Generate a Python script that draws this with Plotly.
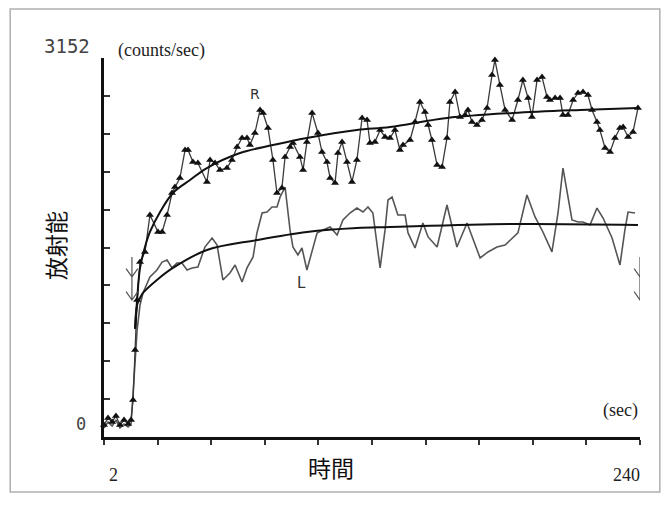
import plotly.graph_objects as go

# ---- data (time in sec, counts/sec) ----
r_time = [2.0, 3.8, 5.6, 7.3, 9.1, 10.9, 12.7, 14.0, 14.9, 15.8,
          16.7, 18.0, 20.2, 22.4, 26.0, 27.8, 30.0, 32.2, 33.5, 35.7,
          38.0, 39.3, 41.5, 43.7, 47.7, 49.1, 51.3, 53.5, 56.6, 58.8,
          61.1, 63.3, 65.5, 66.8, 69.0, 71.3, 72.6, 74.8, 77.0, 78.8,
          81.0, 82.4, 84.6, 85.9, 89.0, 90.4, 92.1, 94.4, 97.0, 98.8,
          101.0, 102.4, 104.6, 105.9, 107.7, 109.9, 112.1, 114.3, 116.6, 118.8,
          120.1, 122.3, 124.6, 126.8, 129.0, 131.2, 133.4, 134.8, 137.9, 140.1,
          142.3, 144.5, 145.9, 147.6, 149.9, 152.1, 154.3, 155.6, 157.9, 160.1,
          162.3, 163.6, 165.4, 167.6, 169.8, 172.1, 174.3, 175.6, 177.8, 180.1,
          183.2, 185.8, 188.0, 190.3, 192.0, 194.3, 196.5, 198.7, 200.0, 202.3,
          204.5, 205.8, 208.0, 210.3, 212.5, 214.7, 216.9, 218.7, 220.9, 222.2,
          224.5, 226.7, 228.9, 231.1, 232.5, 234.7, 236.9, 239.1]
r_counts = [100, 158, 125, 175, 100, 141, 108, 141, 308, 724,
            1139, 1455, 1539, 1846, 1705, 1705, 1846, 2029, 2079, 2154,
            2387, 2387, 2287, 2279, 2121, 2304, 2279, 2221, 2237, 2304,
            2412, 2487, 2487, 2428, 2528, 2720, 2695, 2570, 2304, 2029,
            2071, 2329, 2412, 2445, 2329, 2221, 2453, 2695, 2528, 2370,
            2287, 2154, 2112, 2362, 2453, 2287, 2121, 2304, 2653, 2636,
            2445, 2453, 2553, 2495, 2487, 2553, 2387, 2428, 2470, 2620,
            2786, 2703, 2595, 2470, 2262, 2245, 2487, 2786, 2869, 2661,
            2678, 2720, 2620, 2595, 2636, 2736, 3011, 3135, 2927, 2720,
            2636, 2803, 2969, 2819, 2661, 2969, 2994, 2828, 2803, 2819,
            2819, 2678, 2678, 2803, 2861, 2869, 2844, 2720, 2620, 2553,
            2403, 2370, 2487, 2570, 2578, 2495, 2537, 2736]

l_time = [2.0, 3.8, 5.6, 7.3, 9.1, 10.9, 12.7, 14.0, 15.3, 16.7,
          18.0, 19.3, 22.4, 25.5, 27.8, 30.0, 32.2, 34.4, 36.6, 38.9,
          41.1, 43.7, 46.8, 50.0, 52.2, 54.8, 57.9, 60.2, 63.3, 65.5,
          68.2, 69.9, 72.2, 74.4, 76.6, 78.8, 80.2, 82.4, 84.6, 85.9,
          88.1, 89.9, 92.1, 94.4, 96.6, 99.2, 102.4, 105.5, 108.1, 111.2,
          114.3, 117.0, 119.2, 121.4, 123.7, 124.6, 126.8, 128.1, 129.9, 132.5,
          135.7, 137.0, 140.1, 143.6, 145.9, 149.9, 154.3, 158.7, 163.2, 169.0,
          172.5, 176.5, 180.1, 183.2, 185.8, 189.8, 193.4, 196.9, 200.9, 203.6,
          205.8, 209.8, 212.5, 214.7, 217.8, 220.9, 223.6, 227.6, 231.1, 233.3,
          234.7, 237.8]
l_counts = [75, 125, 91, 141, 75, 108, 83, 108, 474, 890,
            1098, 1198, 1331, 1389, 1455, 1472, 1406, 1447, 1447, 1389,
            1406, 1414, 1580, 1655, 1597, 1306, 1364, 1430, 1289, 1406,
            1497, 1697, 1863, 1871, 1913, 1913, 1996, 2079, 1722, 1580,
            1514, 1572, 1389, 1539, 1697, 1722, 1746, 1680, 1805, 1863,
            1904, 1871, 1913, 1863, 1514, 1406, 1722, 1971, 1996, 1846,
            1846, 1697, 1572, 1780, 1664, 1580, 1929, 1580, 1780, 1489,
            1539, 1580, 1597, 1655, 1697, 2013, 1830, 1705, 1539, 1863,
            2237, 1805, 1788, 1788, 1763, 1904, 1821, 1655, 1431, 1722,
            1871, 1863]

# fitted (smooth) curves
rfit_time = [15.8, 16.7, 18.0, 20.2, 22.4, 26.9, 32.6, 40.2, 47.7, 62.4, 77.0,
             92.1, 114.3, 129.0, 154.3, 183.6, 213.4, 239.1]
rfit_counts = [900, 1139, 1406, 1580, 1705, 1871, 2029, 2137, 2237, 2362, 2428,
               2487, 2553, 2578, 2653, 2695, 2720, 2736]
lfit_time = [15.8, 16.7, 18.0, 19.3, 25.5, 32.6, 47.7, 69.9, 92.1, 114.3, 129.0,
             183.6, 239.1]
lfit_counts = [900, 1098, 1156, 1198, 1306, 1406, 1555, 1638, 1705, 1738, 1746,
               1771, 1763]

x_min, x_max = 2, 240
y_min, y_max = 0, 3152
x_ticks = [x_min + i * (x_max - x_min) / 10 for i in range(11)]
y_ticks = [y_max * i / 10 for i in range(11)]

# marker arrows (time, top count, two arrow-head counts)
arrow_times = [14.4, 240.0]
arrow_top = 1497
arrow_heads = [1331, 1139]

fig = go.Figure()

fig.add_trace(go.Scatter(
    x=l_time, y=l_counts, mode="lines",
    line=dict(color="#555555", width=1.6), hoverinfo="skip", cliponaxis=False))
fig.add_trace(go.Scatter(
    x=r_time, y=r_counts, mode="lines+markers",
    line=dict(color="#3a3a3a", width=1.3),
    marker=dict(symbol="triangle-up", size=7, color="#111111"),
    hoverinfo="skip", cliponaxis=False))
fig.add_trace(go.Scatter(
    x=rfit_time, y=rfit_counts, mode="lines", line_shape="spline",
    line=dict(color="#111111", width=2), hoverinfo="skip"))
fig.add_trace(go.Scatter(
    x=lfit_time, y=lfit_counts, mode="lines", line_shape="spline",
    line=dict(color="#111111", width=2), hoverinfo="skip"))

shapes = []
dx = 2.6   # half-width of arrow head (sec)
dy = 70    # height of arrow head (counts)
for t in arrow_times:
    path = f"M {t},{arrow_top} L {t},{arrow_heads[-1]}"
    for h in arrow_heads:
        path += f" M {t - dx},{h + dy} L {t},{h} L {t + dx},{h + dy}"
    shapes.append(dict(type="path", xref="x", yref="y", path=path,
                       line=dict(color="#555555", width=1.2)))

# outer frame
shapes.append(dict(type="rect", xref="paper", yref="paper",
                   x0=-0.175, x1=1.037, y0=-0.145, y1=1.129,
                   line=dict(color="#b0b0b0", width=1.5), layer="below"))

serif = "Liberation Serif"
mono = "DejaVu Sans Mono"
cjk = "Noto Sans CJK JP"
annotations = [
    dict(x=x_min, y=y_max, xref="x", yref="y", text="3152", showarrow=False,
         xanchor="right", yanchor="middle", xshift=-12, yshift=12,
         font=dict(family=mono, size=19, color="#444444")),
    dict(x=x_min, y=y_min, xref="x", yref="y", text="0", showarrow=False,
         xanchor="right", yanchor="middle", xshift=-16, yshift=13,
         font=dict(family=mono, size=17, color="#444444")),
    dict(x=x_min, y=y_max, xref="x", yref="y", text="(counts/sec)", showarrow=False,
         xanchor="left", yanchor="middle", xshift=12, yshift=8,
         font=dict(family=serif, size=18, color="#222222")),
    dict(x=x_max, y=y_min, xref="x", yref="y", text="(sec)", showarrow=False,
         xanchor="right", yanchor="middle", xshift=0, yshift=27,
         font=dict(family=serif, size=18, color="#222222")),
    dict(x=x_min, y=y_min, xref="x", yref="y", text="2", showarrow=False,
         xanchor="center", yanchor="middle", xshift=9, yshift=-38,
         font=dict(family=serif, size=18, color="#222222")),
    dict(x=x_max, y=y_min, xref="x", yref="y", text="240", showarrow=False,
         xanchor="center", yanchor="middle", xshift=-14, yshift=-38,
         font=dict(family=serif, size=18, color="#222222")),
    dict(x=0.4235, y=-0.079, xref="paper", yref="paper", text="時間", showarrow=False,
         xanchor="center", yanchor="middle",
         font=dict(family=cjk, size=23, color="#111111")),
    dict(x=-0.0914, y=0.504, xref="paper", yref="paper", text="放射能", showarrow=False,
         xanchor="center", yanchor="middle", textangle=-90,
         font=dict(family=cjk, size=23, color="#111111")),
    dict(x=69.0, y=2850, xref="x", yref="y", text="R", showarrow=False,
         font=dict(family="DejaVu Sans", size=14, color="#333333")),
    dict(x=89.5, y=1280, xref="x", yref="y", text="L", showarrow=False,
         font=dict(family="DejaVu Sans", size=15, color="#333333")),
]

fig.update_layout(
    width=653, height=492,
    margin=dict(l=96, r=21, t=50, b=63),
    paper_bgcolor="white", plot_bgcolor="white",
    showlegend=False,
    shapes=shapes, annotations=annotations,
    xaxis=dict(range=[x_min, x_max], showgrid=False, zeroline=False,
               showline=True, linecolor="#111111", linewidth=2.5,
               tickmode="array", tickvals=x_ticks, ticktext=[""] * 11,
               ticks="outside", ticklen=5, tickwidth=1.5, tickcolor="#333333"),
    yaxis=dict(range=[y_min, y_max], showgrid=False, zeroline=False,
               showline=True, linecolor="#111111", linewidth=2.5,
               tickmode="array", tickvals=y_ticks, ticktext=[""] * 11,
               ticks="inside", ticklen=6, tickwidth=1.5, tickcolor="#333333"),
)

fig.write_html("out.html")
